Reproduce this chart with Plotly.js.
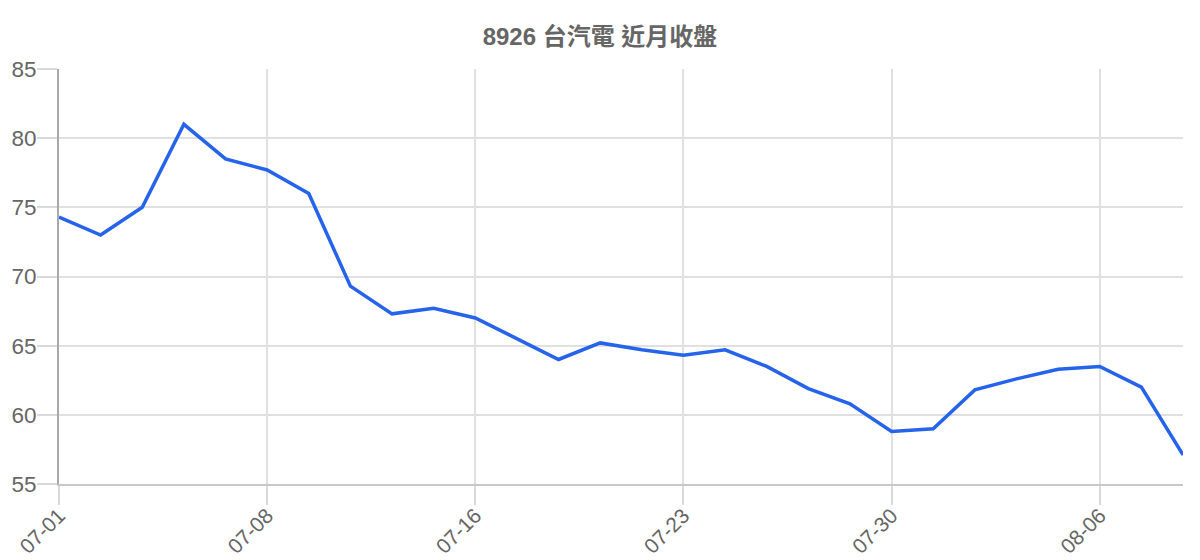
<!DOCTYPE html>
<html>
<head>
<meta charset="utf-8">
<script src="https://cdn.plot.ly/plotly-3.0.1.min.js"></script>
<style>
  html, body { margin: 0; padding: 0; background: #fff; }
  #chart { width: 1200px; height: 560px; }
</style>
</head>
<body>
<div id="chart"></div>
<script>
// trading days, Jul-Aug
var dates = ['07-01','07-02','07-03','07-04','07-05','07-08','07-09','07-10','07-11','07-12',
             '07-16','07-17','07-18','07-19','07-22','07-23','07-24','07-25','07-26','07-29',
             '07-30','07-31','08-01','08-02','08-05','08-06','08-07','08-08'];
var closes = [74.3, 73.0, 75.0, 81.0, 78.5, 77.7, 76.0, 69.3, 67.3, 67.7,
              67.0, 65.5, 64.0, 65.2, 64.7, 64.3, 64.7, 63.5, 61.9, 60.8,
              58.8, 59.0, 61.8, 62.6, 63.3, 63.5, 62.0, 57.1];
var shownDates = ['07-01','07-08','07-16','07-23','07-30','08-06'];
var yTicks = [55, 60, 65, 70, 75, 80, 85];

var gray = '#666666';
var baseFont = '"Liberation Sans", Arial, "Noto Sans CJK TC", sans-serif';

var data = [{
  x: dates,
  y: closes,
  type: 'scatter',
  mode: 'lines',
  line: { color: '#2563eb', width: 3.5 },
  hoverinfo: 'x+y'
}];

var layout = {
  width: 1200,
  height: 560,
  margin: { l: 59, r: 17, t: 69, b: 76 },
  paper_bgcolor: '#fff',
  plot_bgcolor: '#fff',
  font: { family: baseFont, color: gray },
  title: {
    text: '<b>8926 台汽電 近月收盤</b>',
    font: { family: baseFont, size: 24, color: gray },
    x: 0.5, xanchor: 'center',
    y: 0.935, yanchor: 'middle'
  },
  xaxis: {
    type: 'category',
    range: [0, dates.length - 1],
    tickmode: 'array',
    tickvals: shownDates,
    ticktext: shownDates,
    tickangle: -45,
    ticks: 'outside',
    ticklen: 19,
    tickwidth: 1.5,
    tickcolor: '#d9d9d9',
    ticklabelstandoff: -10,
    tickfont: { size: 21, color: gray },
    showgrid: true,
    gridcolor: '#e0e0e0',
    gridwidth: 1.5,
    showline: true,
    linecolor: '#c8c8c8',
    linewidth: 2,
    zeroline: false,
    fixedrange: true
  },
  yaxis: {
    range: [55, 85],
    tickmode: 'array',
    tickvals: yTicks,
    ticks: 'outside',
    ticklen: 20,
    tickwidth: 1.5,
    tickcolor: '#d9d9d9',
    ticklabelstandoff: -4,
    tickfont: { size: 22.5, color: gray },
    showgrid: true,
    gridcolor: '#e0e0e0',
    gridwidth: 1.5,
    showline: true,
    linecolor: '#aaaaaa',
    linewidth: 2,
    zeroline: false,
    fixedrange: true
  },
  showlegend: false,
  hovermode: 'closest'
};

Plotly.newPlot('chart', data, layout, { displayModeBar: false, responsive: false });
</script>
</body>
</html>
